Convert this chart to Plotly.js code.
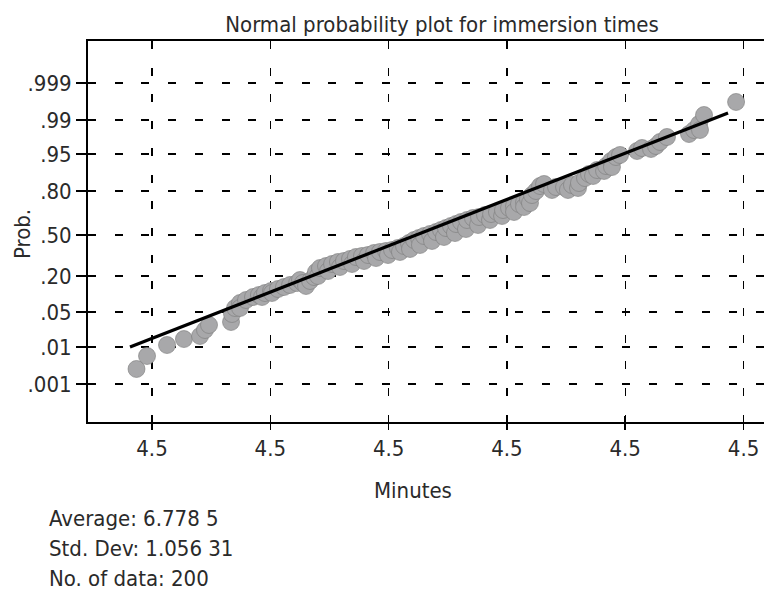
<!DOCTYPE html>
<html>
<head>
<meta charset="utf-8">
<script src="https://cdn.plot.ly/plotly-3.0.1.min.js"></script>
<style>html,body{margin:0;padding:0;background:#fff;}#chart{width:764px;height:592px;}</style>
</head>
<body>
<div id="chart"></div>
<script>
const pointMinutes = [4.369,4.458,4.627,4.770,4.906,4.948,4.982,5.168,5.176,5.202,5.244,5.244,5.295,5.354,5.404,5.430,5.455,5.506,5.514,5.565,5.616,5.667,5.726,5.751,5.776,5.802,5.836,5.870,5.886,5.903,5.920,5.971,5.988,6.022,6.072,6.089,6.123,6.174,6.191,6.224,6.275,6.292,6.326,6.377,6.394,6.427,6.478,6.495,6.529,6.579,6.596,6.630,6.672,6.681,6.715,6.757,6.765,6.799,6.850,6.867,6.901,6.943,6.968,6.985,7.027,7.061,7.070,7.112,7.154,7.163,7.213,7.256,7.264,7.315,7.357,7.366,7.416,7.459,7.467,7.518,7.560,7.560,7.602,7.645,7.645,7.678,7.695,7.712,7.746,7.780,7.814,7.881,7.915,7.983,8.016,8.050,8.101,8.109,8.160,8.194,8.228,8.262,8.321,8.338,8.380,8.388,8.422,8.456,8.600,8.642,8.718,8.760,8.794,8.853,9.039,9.082,9.124,9.132,9.166,9.437];
// Normal scores (plotting positions) for those points
const pointScore = [-3.045,-2.75,-2.5,-2.364,-2.295,-2.159,-2.045,-1.977,-1.795,-1.659,-1.545,-1.659,-1.477,-1.409,-1.364,-1.409,-1.318,-1.273,-1.318,-1.227,-1.182,-1.136,-1.091,-1.023,-1.091,-1.159,-1.045,-0.955,-0.841,-0.932,-0.75,-0.705,-0.818,-0.659,-0.614,-0.727,-0.591,-0.545,-0.659,-0.5,-0.477,-0.591,-0.455,-0.409,-0.523,-0.386,-0.364,-0.455,-0.341,-0.295,-0.386,-0.25,-0.182,-0.318,-0.114,-0.068,-0.227,-0.023,0.023,-0.136,0.068,0.114,-0.045,0.159,0.205,0.045,0.25,0.295,0.136,0.341,0.386,0.227,0.409,0.455,0.341,0.477,0.523,0.432,0.568,0.614,0.659,0.523,0.705,0.75,0.636,0.818,0.727,0.909,1.0,1.114,1.159,1.023,1.091,1.091,1.023,1.136,1.068,1.182,1.295,1.386,1.341,1.477,1.455,1.568,1.682,1.545,1.773,1.818,1.909,1.977,1.955,2.023,2.114,2.227,2.295,2.386,2.523,2.386,2.727,3.023];
// Fitted normal line end points
const fitMinutes = [4.314, 9.369];
const fitScore = [-2.545, 2.773];
// Axis ticks
const xTickVals = [4.5, 5.5, 6.5, 7.5, 8.5, 9.5];
const xTickText = ["4.5", "4.5", "4.5", "4.5", "4.5", "4.5"];
const yTickVals = [-3.386, -2.545, -1.75, -0.932, 0, 1.0, 1.841, 2.614, 3.455];
const yTickText = [".001", ".01", ".05", ".20", ".50", ".80", ".95", ".99", ".999"];
const statLines = ["Average: 6.778 5", "Std. Dev: 1.056 31", "No. of data: 200"];

const FONT = '"DejaVu Sans Condensed", "Liberation Sans Narrow", sans-serif';
const TXT = '#2a2a2a';
const X_RANGE = [3.959, 9.673];

const traces = [
  {
    x: pointMinutes, y: pointScore, type: 'scatter', mode: 'markers',
    marker: {size: 17, color: '#a8a8aa', line: {color: '#7a7a7a', width: 0.6}},
    hoverinfo: 'skip', showlegend: false
  },
  {
    x: fitMinutes, y: fitScore, type: 'scatter', mode: 'lines', xaxis: 'x2',
    line: {color: '#000', width: 3.2},
    hoverinfo: 'skip', showlegend: false
  }
];

const annotations = statLines.map((t, i) => ({
  text: t, xref: 'paper', yref: 'paper', x: (47 - 88) / 676, y: (422 - (518 + 30 * i)) / 381,
  xanchor: 'left', yanchor: 'middle', showarrow: false,
  font: {family: FONT, size: 22, color: TXT}
}));
annotations.push({
  text: 'Minutes', xref: 'paper', yref: 'paper', x: (413 - 88) / 676, y: (422 - 490) / 381,
  xanchor: 'center', yanchor: 'middle', showarrow: false,
  font: {family: FONT, size: 22, color: TXT}
});
annotations.push({
  text: 'Prob.', xref: 'paper', yref: 'paper', x: (22 - 88) / 676, y: (422 - 234) / 381,
  xanchor: 'center', yanchor: 'middle', textangle: -90, showarrow: false,
  font: {family: FONT, size: 22, color: TXT}
});

const layout = {
  width: 764, height: 592,
  margin: {l: 88, r: 0, t: 41, b: 170},
  paper_bgcolor: '#fff', plot_bgcolor: '#fff',
  font: {family: FONT, size: 22, color: TXT},
  title: {
    text: 'Normal probability plot for immersion times',
    xref: 'container', yref: 'container', x: 442 / 764, y: 1 - 24 / 592,
    xanchor: 'center', yanchor: 'middle',
    font: {family: FONT, size: 22, color: TXT}
  },
  xaxis: {
    range: X_RANGE, tickvals: xTickVals, ticktext: xTickText,
    showline: true, linecolor: '#000', linewidth: 2, mirror: true,
    ticks: 'outside', ticklen: 6, tickwidth: 1.5, tickcolor: '#000',
    showgrid: true, gridcolor: '#000', gridwidth: 1.2, griddash: '8px,18.7px',
    zeroline: false, tickfont: {family: FONT, size: 22, color: TXT}
  },
  xaxis2: {
    range: X_RANGE, tickvals: xTickVals, overlaying: 'x', side: 'bottom',
    showticklabels: false, ticks: 'inside', ticklen: 6, tickwidth: 1.5, tickcolor: '#000',
    showgrid: false, showline: false, zeroline: false
  },
  yaxis: {
    range: [-4.25, 4.409], tickvals: yTickVals, ticktext: yTickText,
    showline: true, linecolor: '#000', linewidth: 2, mirror: false,
    ticks: 'outside', ticklen: 10, tickwidth: 1.5, tickcolor: '#000',
    showgrid: true, gridcolor: '#000', gridwidth: 1.2, griddash: '8px,18.7px',
    zeroline: false, tickfont: {family: FONT, size: 22, color: TXT}
  },
  annotations: annotations
};

Plotly.newPlot('chart', traces, layout, {displayModeBar: false, staticPlot: true});
</script>
</body>
</html>
